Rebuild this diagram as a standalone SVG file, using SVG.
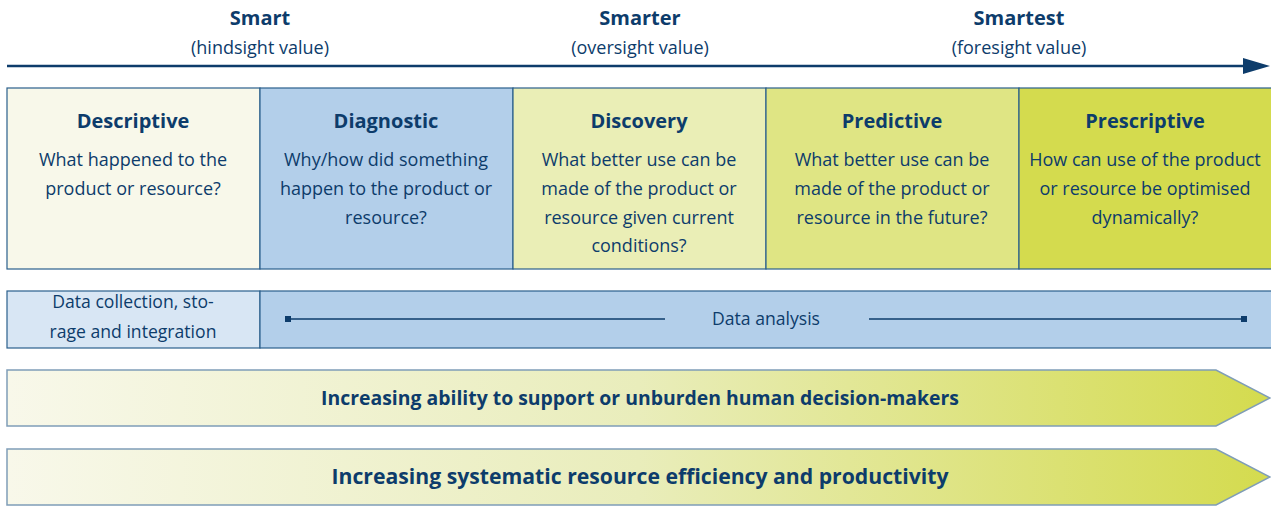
<svg xmlns="http://www.w3.org/2000/svg" width="1271" height="515" viewBox="0 0 1271 515">
<style>
text{font-family:"Open Sans","Liberation Sans",sans-serif;fill:#0d3c6b;text-anchor:middle}
.h{font-weight:bold;font-size:20px}
.s{font-size:18px}
.b{font-size:17.6px}
.cell{stroke:#2a5f8c;stroke-width:1.2}
.bar{stroke:#7f9db8;stroke-width:1.5;fill:url(#g)}
</style>
<defs>
<linearGradient id="g" x1="0" y1="0" x2="1" y2="0">
<stop offset="0" stop-color="#f8f8ea"/>
<stop offset="0.5" stop-color="#e9edbb"/>
<stop offset="1" stop-color="#d4db4e"/>
</linearGradient>
<marker id="sq" viewBox="0 0 6 6" refX="3" refY="3" markerWidth="6" markerHeight="6" markerUnits="userSpaceOnUse"><rect width="6" height="6" fill="#0d3c6b"/></marker>
</defs>
<g id="header">
<text class="h" x="260" y="25">Smart</text>
<text class="s" x="260" y="54">(hindsight value)</text>
<text class="h" x="640" y="25">Smarter</text>
<text class="s" x="640" y="54">(oversight value)</text>
<text class="h" x="1019" y="25">Smartest</text>
<text class="s" x="1019" y="54">(foresight value)</text>
</g>
<g id="connectors">
<line x1="7" y1="66" x2="1246" y2="66" stroke="#0d3c6b" stroke-width="2.5"/>
<polygon points="1243,58 1270,66 1243,74" fill="#0d3c6b"/>
</g>
<g id="descriptive">
<rect class="cell" x="7" y="88" width="253" height="181" fill="#f8f8ea"/>
<text class="h" x="133" y="128">Descriptive</text>
<text class="s" x="133" y="166">What happened to the</text>
<text class="s" x="133" y="195">product or resource?</text>
</g>
<g id="diagnostic">
<rect class="cell" x="260" y="88" width="253" height="181" fill="#b3cfea"/>
<text class="h" x="386" y="128">Diagnostic</text>
<text class="s" x="386" y="166">Why/how did something</text>
<text class="s" x="386" y="195">happen to the product or</text>
<text class="s" x="386" y="224">resource?</text>
</g>
<g id="discovery">
<rect class="cell" x="513" y="88" width="253" height="181" fill="#eaeeb6"/>
<text class="h" x="639" y="128">Discovery</text>
<text class="s" x="639" y="166">What better use can be</text>
<text class="s" x="639" y="195">made of the product or</text>
<text class="s" x="639" y="224">resource given current</text>
<text class="s" x="639" y="252">conditions?</text>
</g>
<g id="predictive">
<rect class="cell" x="766" y="88" width="253" height="181" fill="#dfe584"/>
<text class="h" x="892" y="128">Predictive</text>
<text class="s" x="892" y="166">What better use can be</text>
<text class="s" x="892" y="195">made of the product or</text>
<text class="s" x="892" y="224">resource in the future?</text>
</g>
<g id="prescriptive">
<rect class="cell" x="1019" y="88" width="253" height="181" fill="#d4db4e"/>
<text class="h" x="1145" y="128">Prescriptive</text>
<text class="s" x="1145" y="166">How can use of the product</text>
<text class="s" x="1145" y="195">or resource be optimised</text>
<text class="s" x="1145" y="224">dynamically?</text>
</g>
<g id="data-collection">
<rect class="cell" x="7" y="291" width="253" height="57" fill="#d8e6f4"/>
<text class="b" x="133" y="308">Data collection, sto-</text>
<text class="b" x="133" y="338">rage and integration</text>
</g>
<g id="data-analysis">
<rect class="cell" x="260" y="291" width="1012" height="57" fill="#b3cfea"/>
<line x1="288" y1="319" x2="665" y2="319" stroke="#0d3c6b" stroke-width="1.3" marker-start="url(#sq)"/>
<line x1="869" y1="319" x2="1244" y2="319" stroke="#0d3c6b" stroke-width="1.3" marker-end="url(#sq)"/>
<text class="b" x="766" y="325">Data analysis</text>
</g>
<g id="bar1">
<polygon class="bar" points="7,370 1216,370 1270,398 1216,426 7,426"/>
<text class="h" x="640" y="405" style="font-size:19.4px">Increasing ability to support or unburden human decision-makers</text>
</g>
<g id="bar2">
<polygon class="bar" points="7,449 1216,449 1270,477 1216,505 7,505"/>
<text class="h" x="640" y="484" style="font-size:21.2px">Increasing systematic resource efficiency and productivity</text>
</g>
</svg>
